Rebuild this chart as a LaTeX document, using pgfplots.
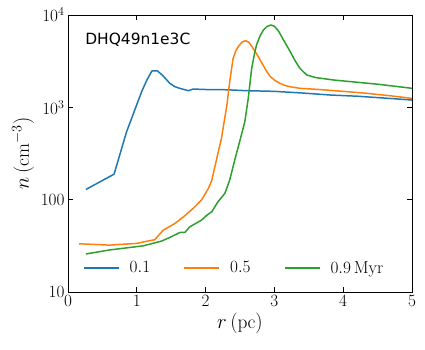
\documentclass[border=0pt]{standalone}
\usepackage{pgfplots}
\pgfplotsset{compat=1.18}
\usepackage{fontspec}
\newfontfamily\dejavu{DejaVu Sans}
\definecolor{tabblue}{HTML}{1F77B4}
\definecolor{taborange}{HTML}{FF7F0E}
\definecolor{tabgreen}{HTML}{2CA02C}
\begin{document}
\begin{tikzpicture}
\useasboundingbox (-68bp,-58bp) rectangle (357bp,292bp);
\begin{axis}[
  at={(0,0)}, anchor=south west,
  scale only axis, width=344bp, height=277bp,
  xmin=0, xmax=5, ymin=10, ymax=10000,
  ymode=log,
  log basis y=10,
  xtick={0,1,2,3,4,5},
  ytick={10,100,1000,10000},
  yticklabels={$10$,$100$,$10^3$,$10^4$},
  tick align=inside,
  xtick pos=both, ytick pos=both,
  major tick length=5bp, minor tick length=3bp,
  every tick/.style={black, line width=0.6pt},
  tick label style={font=\fontsize{17.5}{20}\selectfont},
  label style={font=\fontsize{19.5}{22}\selectfont},
  xlabel={$r\,(\mathrm{pc})$},
  ylabel={$n\,(\mathrm{cm}^{-3})$},
  axis line style={line width=0.8pt},
  legend columns=3,
  legend style={draw=none, fill=none, inner sep=0pt, at={(0.0436,0.087)}, anchor=west,
    font=\fontsize{17.5}{20}\selectfont,
    /tikz/every odd column/.append style={column sep=8bp},
    /tikz/every even column/.append style={column sep=31.5bp}},
  legend image code/.code={\draw[#1] (0bp,0bp) -- (35bp,0bp);},
  every axis plot/.append style={line width=1.5pt, line join=round},
]
\addplot[tabblue] coordinates {
(0.26,129) (0.67,189) (0.85,540) (1.07,1475) (1.15,2000) (1.22,2480) (1.30,2480)
(1.38,2200) (1.48,1820) (1.55,1680) (1.63,1600) (1.75,1515) (1.82,1578) (2.0,1560)
(2.3,1550) (2.6,1514) (3.0,1490) (3.4,1430) (3.81,1360) (4.2,1320) (4.6,1260) (5.0,1200)
};
\addlegendentry{$0.1$}
\addplot[taborange] coordinates {
(0.16,33.3) (0.6,32.2) (1.0,33.6) (1.19,36.0) (1.26,36.8) (1.385,46.8) (1.555,55.3)
(1.68,65.3) (1.82,80.5) (1.94,99) (2.04,132) (2.09,162) (2.14,237) (2.23,461)
(2.31,1059) (2.35,1892) (2.40,3390) (2.44,4100) (2.48,4600) (2.53,5100) (2.58,5270)
(2.63,5050) (2.69,4360) (2.76,3600) (2.82,3000) (2.88,2500)
(2.94,2150) (3.01,1950) (3.08,1820) (3.15,1730) (3.23,1670) (3.37,1607) (3.61,1567) (4.0,1490) (4.34,1420) (4.7,1330) (5.0,1250)
};
\addlegendentry{$0.5$}
\addplot[tabgreen] coordinates {
(0.26,25.8) (0.6,28.5) (1.09,31.6) (1.19,33) (1.36,35.6) (1.48,39) (1.63,44.2)
(1.70,44.2) (1.77,50.8) (1.94,60) (2.02,68) (2.09,74) (2.18,95) (2.28,117) (2.35,163)
(2.43,280) (2.52,501) (2.57,698) (2.62,1250) (2.67,2650) (2.71,3800) (2.74,4730) (2.79,5900) (2.84,6870)
(2.89,7500) (2.95,7800) (3.0,7550) (3.06,6700) (3.13,5400) (3.23,4010) (3.30,3200) (3.37,2650) (3.47,2240) (3.6,2100) (3.86,1977)
(4.5,1780) (5.0,1608)
};
\addlegendentry{$0.9\,\mathrm{Myr}$}
\node[anchor=west, font=\dejavu\fontsize{15.5}{18}\selectfont] at (rel axis cs:0.04,0.91) {DHQ49n1e3C};
\end{axis}
\end{tikzpicture}
\end{document}
